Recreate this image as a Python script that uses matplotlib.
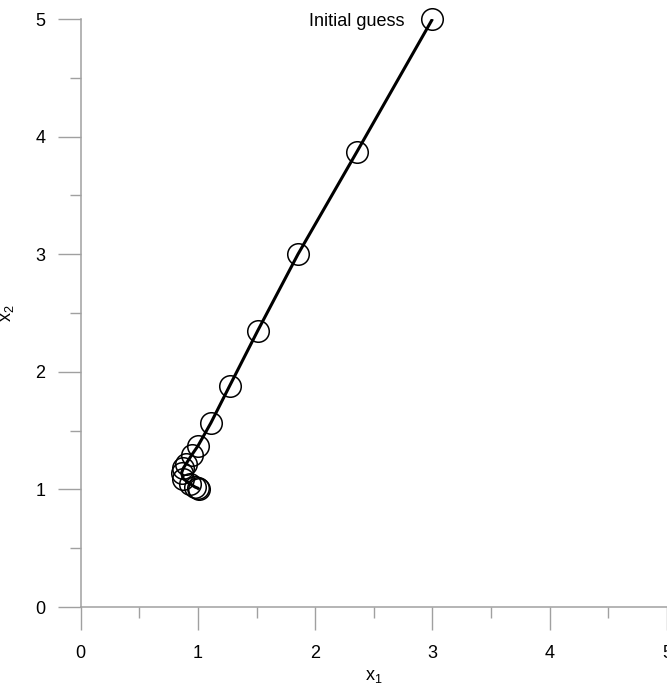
import matplotlib
matplotlib.use("Agg")
import matplotlib.pyplot as plt

plt.rcParams['font.family'] = ['Liberation Sans', 'DejaVu Sans']
plt.rcParams['mathtext.default'] = 'regular'

# Iterates of the optimisation path
x1_vals = [3.00, 2.355, 1.853, 1.51, 1.27, 1.11, 1.00, 0.945, 0.90, 0.875, 0.86, 0.875, 0.93, 0.975, 1.00, 1.01]
x2_vals = [5.00, 3.87, 3.00, 2.35, 1.88, 1.565, 1.37, 1.29, 1.22, 1.18, 1.14, 1.09, 1.05, 1.02, 1.01, 1.00]

x_ticks = [0, 1, 2, 3, 4, 5]
y_ticks = [0, 1, 2, 3, 4, 5]
annotation = "Initial guess"

fig = plt.figure(figsize=(6.67, 6.91), dpi=100)
ax = fig.add_axes([80.7 / 667, 84 / 691, (667 - 80.7) / 667, (607 - 19) / 691])

ax.plot(x1_vals, x2_vals, color='black', lw=2.2, zorder=3, solid_capstyle='butt')
ax.plot(x1_vals, x2_vals, linestyle='none', marker='o', markersize=15.5,
        markerfacecolor='none', markeredgecolor='black', markeredgewidth=1.1,
        zorder=4, clip_on=False)

ax.text(x1_vals[0] - 0.235, x2_vals[0] - 0.02, annotation, ha='right', va='center', fontsize=13)

ax.set_xlim(0, 5)
ax.set_ylim(0, 5)
ax.set_xticks(x_ticks)
ax.set_yticks(y_ticks)
ax.set_xticks([0.5, 1.5, 2.5, 3.5, 4.5], minor=True)
ax.set_yticks([0.5, 1.5, 2.5, 3.5, 4.5], minor=True)

for s in ['top', 'right']:
    ax.spines[s].set_visible(False)
for s in ['left', 'bottom']:
    ax.spines[s].set_color('#a0a0a0')
    ax.spines[s].set_linewidth(1.1)

ax.tick_params(which='major', direction='out', length=16.5, width=1.0, color='#a0a0a0',
               labelsize=13, pad=11)
ax.tick_params(which='minor', direction='out', length=8, width=1.0, color='#a0a0a0')
ax.tick_params(axis='y', which='major', pad=9)

ax.set_xlabel('x$_1$', fontsize=13, labelpad=4)
ax.set_ylabel('x$_2$', fontsize=13, labelpad=14)

fig.savefig('out.png', dpi=100)
